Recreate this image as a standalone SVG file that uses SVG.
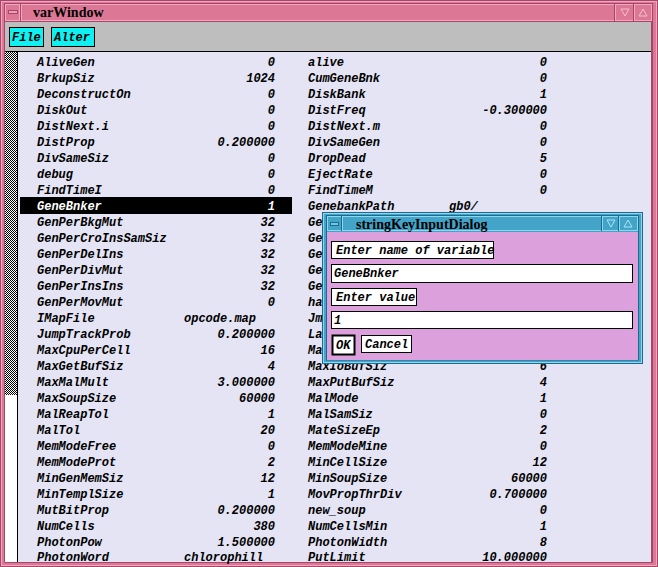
<svg xmlns="http://www.w3.org/2000/svg" width="658" height="567" viewBox="0 0 658 567">
<defs>
<pattern id="chk" width="2" height="2" patternUnits="userSpaceOnUse"><rect width="2" height="2" fill="#ffffff"/><rect width="1" height="1" fill="#000"/><rect x="1" y="1" width="1" height="1" fill="#000"/></pattern>
<style>
.t{font-family:"Liberation Mono","DejaVu Sans Mono",monospace;font-weight:bold;font-style:italic;font-size:12px;fill:#000}
.v{text-anchor:end}
.w{fill:#fff}
.ttl{font-family:"Liberation Serif","DejaVu Serif",serif;font-weight:bold;font-size:14px;fill:#000}
.pk{fill:#dc7896}
.pkd{stroke:#a8466a;stroke-width:1;fill:none}
.pkl{stroke:#f0a8c0;stroke-width:1;fill:none}
.tl{fill:#44a4c8}
.tld{stroke:#1e6a8c;stroke-width:1;fill:none}
.tll{stroke:#8cd8f0;stroke-width:1;fill:none}
.box{fill:#fff;stroke:#000;stroke-width:1}
.menu{fill:#10f0f0;stroke:#000;stroke-width:1}
</style>
</defs>

<g id="varWindow">
<rect x="0" y="0" width="658" height="567" class="pk"/>
<rect x="0.5" y="0.5" width="657" height="566" class="pkd"/>
<rect x="1.5" y="1.5" width="655" height="564" class="pkl"/>
<rect x="4.5" y="3.5" width="648" height="558.5" class="pkd"/>
<g id="titlebar">
<rect x="5" y="4" width="15" height="17" class="pk"/>
<rect x="5.5" y="4.5" width="14" height="16" class="pkl"/>
<rect x="8.5" y="10.5" width="9" height="3" fill="#e8a0b8" stroke="#a8466a"/>
<line x1="20.5" y1="4" x2="20.5" y2="21" stroke="#a8466a"/>
<rect x="21.5" y="4.5" width="593" height="16" class="pkl"/>
<line x1="614.5" y1="4" x2="614.5" y2="21" stroke="#a8466a"/>
<rect x="615.5" y="4.5" width="18" height="16" class="pkl"/>
<line x1="633.5" y1="4" x2="633.5" y2="21" stroke="#a8466a"/>
<rect x="634.5" y="4.5" width="17" height="16" class="pkl"/>
<polygon points="621,9 629,9 625,16" fill="none" stroke="#f4c0d0"/>
<polygon points="639,16 647,16 643,9" fill="none" stroke="#f4c0d0"/>
<line x1="4.5" y1="21.5" x2="652" y2="21.5" stroke="#a8466a"/>
<text x="33" y="17" class="ttl">varWindow</text>
</g>
<g id="menubar">
<rect x="5" y="22" width="647" height="29" fill="#bebebe"/>
<rect x="9.5" y="27.5" width="34" height="19" class="menu"/>
<text x="12" y="41" class="t">File</text>
<rect x="51.5" y="27.5" width="43" height="19" class="menu"/>
<text x="54" y="41" class="t">Alter</text>
<line x1="5" y1="51.5" x2="652" y2="51.5" stroke="#000"/>
</g>
<g id="content">
<rect x="18" y="52" width="634" height="510" fill="#e4e4f4"/>
<rect x="5" y="52" width="12" height="343" fill="url(#chk)"/>
<rect x="5" y="395" width="12" height="167" fill="#ffffff"/>
<line x1="17.5" y1="52" x2="17.5" y2="562" stroke="#000"/>
<line x1="651.5" y1="22" x2="651.5" y2="562" stroke="#a8466a"/>
<line x1="5" y1="562.5" x2="652" y2="562.5" stroke="#a8466a"/>
<rect x="20" y="197" width="272" height="17" fill="#000"/>
</g>
<g id="leftColumn" class="t">
<text x="37" y="66">AliveGen</text><text x="275" y="66" class="v">0</text>
<text x="37" y="82">BrkupSiz</text><text x="275" y="82" class="v">1024</text>
<text x="37" y="98">DeconstructOn</text><text x="275" y="98" class="v">0</text>
<text x="37" y="114">DiskOut</text><text x="275" y="114" class="v">0</text>
<text x="37" y="130">DistNext.i</text><text x="275" y="130" class="v">0</text>
<text x="37" y="146">DistProp</text><text x="275" y="146" class="v">0.200000</text>
<text x="37" y="162">DivSameSiz</text><text x="275" y="162" class="v">0</text>
<text x="37" y="178">debug</text><text x="275" y="178" class="v">0</text>
<text x="37" y="194">FindTimeI</text><text x="275" y="194" class="v">0</text>
<text x="37" y="210" class="w">GeneBnker</text><text x="275" y="210" class="v w">1</text>
<text x="37" y="226">GenPerBkgMut</text><text x="275" y="226" class="v">32</text>
<text x="37" y="242">GenPerCroInsSamSiz</text><text x="275" y="242" class="v">32</text>
<text x="37" y="258">GenPerDelIns</text><text x="275" y="258" class="v">32</text>
<text x="37" y="274">GenPerDivMut</text><text x="275" y="274" class="v">32</text>
<text x="37" y="290">GenPerInsIns</text><text x="275" y="290" class="v">32</text>
<text x="37" y="306">GenPerMovMut</text><text x="275" y="306" class="v">0</text>
<text x="37" y="322">IMapFile</text><text x="184" y="322">opcode.map</text>
<text x="37" y="338">JumpTrackProb</text><text x="275" y="338" class="v">0.200000</text>
<text x="37" y="354">MaxCpuPerCell</text><text x="275" y="354" class="v">16</text>
<text x="37" y="370">MaxGetBufSiz</text><text x="275" y="370" class="v">4</text>
<text x="37" y="386">MaxMalMult</text><text x="275" y="386" class="v">3.000000</text>
<text x="37" y="402">MaxSoupSize</text><text x="275" y="402" class="v">60000</text>
<text x="37" y="418">MalReapTol</text><text x="275" y="418" class="v">1</text>
<text x="37" y="434">MalTol</text><text x="275" y="434" class="v">20</text>
<text x="37" y="450">MemModeFree</text><text x="275" y="450" class="v">0</text>
<text x="37" y="466">MemModeProt</text><text x="275" y="466" class="v">2</text>
<text x="37" y="482">MinGenMemSiz</text><text x="275" y="482" class="v">12</text>
<text x="37" y="498">MinTemplSize</text><text x="275" y="498" class="v">1</text>
<text x="37" y="514">MutBitProp</text><text x="275" y="514" class="v">0.200000</text>
<text x="37" y="530">NumCells</text><text x="275" y="530" class="v">380</text>
<text x="37" y="546">PhotonPow</text><text x="275" y="546" class="v">1.500000</text>
<text x="37" y="561">PhotonWord</text><text x="184" y="561">chlorophill</text>
</g>
<g id="rightColumn" class="t">
<text x="308" y="66">alive</text><text x="547" y="66" class="v">0</text>
<text x="308" y="82">CumGeneBnk</text><text x="547" y="82" class="v">0</text>
<text x="308" y="98">DiskBank</text><text x="547" y="98" class="v">1</text>
<text x="308" y="114">DistFreq</text><text x="547" y="114" class="v">-0.300000</text>
<text x="308" y="130">DistNext.m</text><text x="547" y="130" class="v">0</text>
<text x="308" y="146">DivSameGen</text><text x="547" y="146" class="v">0</text>
<text x="308" y="162">DropDead</text><text x="547" y="162" class="v">5</text>
<text x="308" y="178">EjectRate</text><text x="547" y="178" class="v">0</text>
<text x="308" y="194">FindTimeM</text><text x="547" y="194" class="v">0</text>
<text x="308" y="210">GenebankPath</text><text x="449" y="210">gb0/</text>
<text x="308" y="226">Ge</text>
<text x="308" y="242">Ge</text>
<text x="308" y="258">Ge</text>
<text x="308" y="274">Ge</text>
<text x="308" y="290">Ge</text>
<text x="308" y="306">ha</text>
<text x="308" y="322">Jm</text>
<text x="308" y="338">La</text>
<text x="308" y="354">Ma</text>
<text x="308" y="370">MaxIoBufSiz</text><text x="547" y="370" class="v">6</text>
<text x="308" y="386">MaxPutBufSiz</text><text x="547" y="386" class="v">4</text>
<text x="308" y="402">MalMode</text><text x="547" y="402" class="v">1</text>
<text x="308" y="418">MalSamSiz</text><text x="547" y="418" class="v">0</text>
<text x="308" y="434">MateSizeEp</text><text x="547" y="434" class="v">2</text>
<text x="308" y="450">MemModeMine</text><text x="547" y="450" class="v">0</text>
<text x="308" y="466">MinCellSize</text><text x="547" y="466" class="v">12</text>
<text x="308" y="482">MinSoupSize</text><text x="547" y="482" class="v">60000</text>
<text x="308" y="498">MovPropThrDiv</text><text x="547" y="498" class="v">0.700000</text>
<text x="308" y="514">new_soup</text><text x="547" y="514" class="v">0</text>
<text x="308" y="530">NumCellsMin</text><text x="547" y="530" class="v">1</text>
<text x="308" y="546">PhotonWidth</text><text x="547" y="546" class="v">8</text>
<text x="308" y="561">PutLimit</text><text x="547" y="561" class="v">10.000000</text>
</g>
</g>

<g id="stringKeyInputDialog">
<rect x="322" y="212" width="321" height="152" class="tl"/>
<rect x="322.5" y="212.5" width="320" height="151" class="tld"/>
<rect x="323.5" y="213.5" width="318" height="149" class="tll"/>
<rect x="326.5" y="215.5" width="312" height="144.5" class="tld"/>
<rect x="327.5" y="216.5" width="14" height="14" class="tll"/>
<rect x="330.5" y="222.5" width="8" height="3" fill="#70c8e8" stroke="#1e6a8c"/>
<line x1="341.5" y1="216" x2="341.5" y2="231" stroke="#1e6a8c"/>
<rect x="342.5" y="216.5" width="259" height="14" class="tll"/>
<line x1="601.5" y1="216" x2="601.5" y2="231" stroke="#1e6a8c"/>
<rect x="602.5" y="216.5" width="16" height="14" class="tll"/>
<line x1="618.5" y1="216" x2="618.5" y2="231" stroke="#1e6a8c"/>
<rect x="619.5" y="216.5" width="18" height="14" class="tll"/>
<polygon points="607,220 615,220 611,227" fill="none" stroke="#a8e4f8"/>
<polygon points="624,227 632,227 628,220" fill="none" stroke="#a8e4f8"/>
<text x="356" y="229" class="ttl">stringKeyInputDialog</text>
<rect x="327" y="232" width="311" height="128" fill="#dca0dc"/>
<g id="nameLabel"><rect x="331.5" y="241.5" width="162" height="17" class="box"/><text x="336" y="254" class="t">Enter name of variable</text></g>
<g id="nameField"><rect x="331.5" y="264.5" width="301" height="18" class="box"/><text x="334" y="277" class="t">GeneBnker</text></g>
<g id="valueLabel"><rect x="331.5" y="288.5" width="85" height="17" class="box"/><text x="336" y="301" class="t">Enter value</text></g>
<g id="valueField"><rect x="331.5" y="311.5" width="301" height="17" class="box"/><text x="334" y="324" class="t">1</text></g>
<g id="okButton"><rect x="332.5" y="335.5" width="22" height="19" fill="#fff" stroke="#000" stroke-width="2"/><text x="336" y="349" class="t">OK</text></g>
<g id="cancelButton"><rect x="361.5" y="335.5" width="50" height="17" class="box"/><text x="365" y="348" class="t">Cancel</text></g>
</g>
</svg>
